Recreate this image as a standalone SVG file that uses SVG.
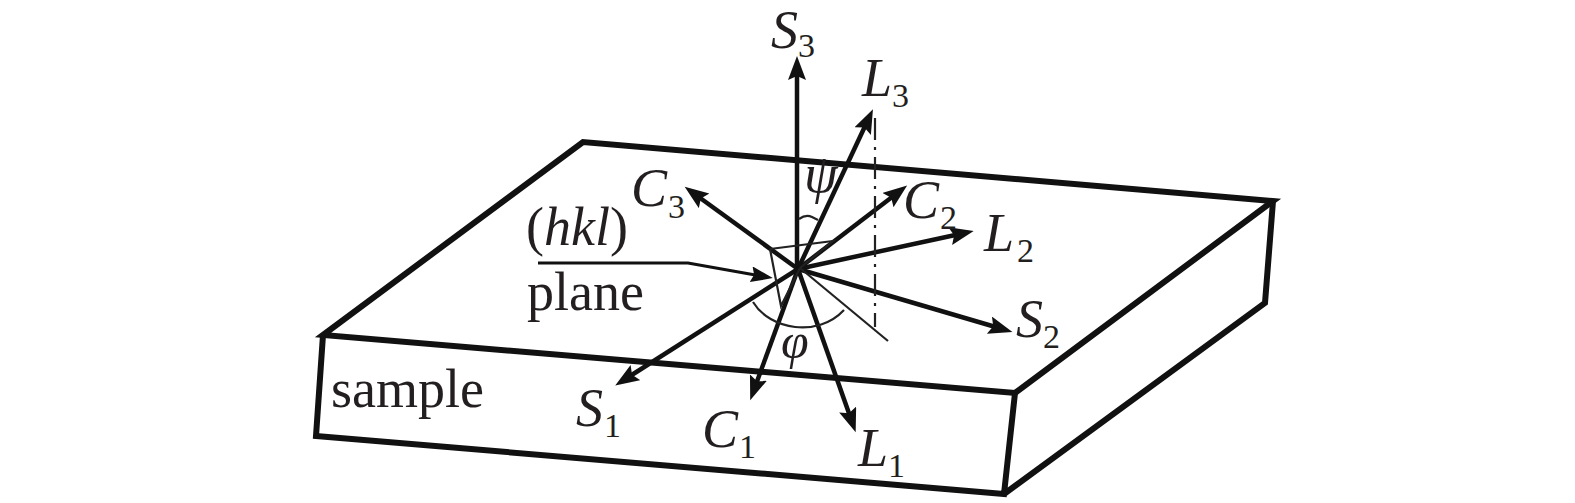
<svg xmlns="http://www.w3.org/2000/svg" width="1575" height="503" viewBox="0 0 1575 503">
<style>
.box{fill:none;stroke:#111;stroke-width:6;stroke-linejoin:miter}
.a{fill:none;stroke:#111;stroke-width:4.5;marker-end:url(#h)}
.t{fill:none;stroke:#222;stroke-width:2.2}
text{font-family:"Liberation Serif","Times New Roman",serif;fill:#231f20}
.m{font-size:54px;font-style:italic}
.s{font-size:34px}
.w{font-size:54px}
</style>
<defs>
<marker id="h" markerUnits="userSpaceOnUse" markerWidth="26" markerHeight="20" refX="10" refY="9" orient="auto"><path d="M0 0L24 9L0 18L4 9Z" fill="#111"/></marker>
<marker id="h2" markerUnits="userSpaceOnUse" markerWidth="26" markerHeight="20" refX="10" refY="8" orient="auto"><path d="M0 0L22 8L0 16L3 8Z" fill="#111"/></marker>
</defs>
<g id="sample">
<path class="box" d="M323 335L583 142L1273 201L1015 393Z"/>
<path class="box" d="M323 335L316 436L1004 494L1015 393M1004 494L1265 303L1273 201"/>
</g>
<g id="connectors">
<line class="a" x1="797" y1="269" x2="797" y2="70"/>
<line class="a" x1="798" y1="269" x2="867" y2="122"/>
<line class="a" x1="798" y1="269" x2="696" y2="195"/>
<line class="a" x1="798" y1="269" x2="896" y2="194"/>
<line class="a" x1="798" y1="269" x2="960" y2="234"/>
<line class="a" x1="798" y1="269" x2="999" y2="328"/>
<line class="a" x1="798" y1="269" x2="627" y2="378"/>
<line class="a" x1="798" y1="269" x2="755" y2="387"/>
<line class="a" x1="798" y1="269" x2="851" y2="419"/>
<path d="M538 263H688L761 276" fill="none" stroke="#111" stroke-width="3.2" marker-end="url(#h2)"/>
</g>
<g id="construction">
<path class="t" d="M770 249L833 241L800 268M770 249L781 306L800 268"/>
<path class="t" d="M800 268L888 341"/>
<path class="t" stroke-dasharray="22 7 3 7" d="M875 118V327"/>
<path class="t" d="M753 302C770 330 818 338 844 310"/>
<path class="t" d="M799 219Q806 214 812 217L818 220"/>
</g>
<g id="labels">
<text class="m" x="771" y="48">S</text><text class="s" x="798" y="57">3</text>
<text class="m" x="862" y="96">L</text><text class="s" x="892" y="107">3</text>
<text class="m" x="631" y="206">C</text><text class="s" x="668" y="218">3</text>
<text class="m" x="903" y="218">C</text><text class="s" x="940" y="229">2</text>
<text class="m" x="984" y="251">L</text><text class="s" x="1017" y="262">2</text>
<text class="m" x="1016" y="337">S</text><text class="s" x="1043" y="348">2</text>
<text class="m" x="576" y="426">S</text><text class="s" x="604" y="437">1</text>
<text class="m" x="702" y="447">C</text><text class="s" x="739" y="458">1</text>
<text class="m" x="858" y="466">L</text><text class="s" x="888" y="477">1</text>
<text class="m" x="804" y="192">ψ</text>
<text class="m" x="781" y="358" style="font-size:50px">φ</text>
<text class="w" x="526" y="245">(<tspan font-style="italic">hkl</tspan>)</text>
<text class="w" x="527" y="310">plane</text>
<text class="w" x="331" y="407">sample</text>
</g>
</svg>
